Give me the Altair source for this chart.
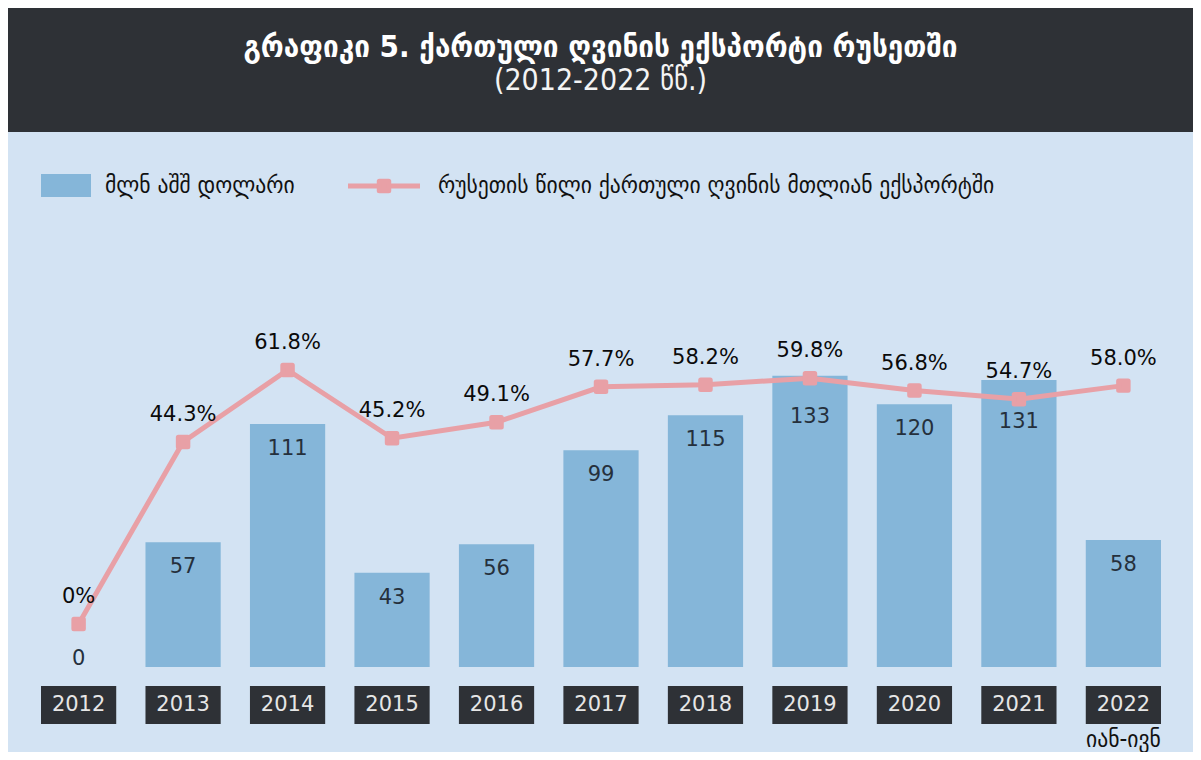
import altair as alt
import pandas as pd

years = ["2012", "2013", "2014", "2015", "2016", "2017", "2018", "2019", "2020", "2021", "2022"]
usd_mln = [0, 57, 111, 43, 56, 99, 115, 133, 120, 131, 58]
share_pct = [0, 44.3, 61.8, 45.2, 49.1, 57.7, 58.2, 59.8, 56.8, 54.7, 58.0]

title_text = "გრაფიკი 5. ქართული ღვინის ექსპორტი რუსეთში"
subtitle_text = "(2012-2022 წწ.)"
legend_bar = "მლნ აშშ დოლარი"
legend_line = "რუსეთის წილი ქართული ღვინის მთლიან ექსპორტში"
note_year = "2022"
note_text = "იან-ივნ"

BG = "#d3e3f3"
DARK = "#2e3136"
BAR = "#85b6d9"
LINE = "#e8a0a6"
GEO = "DejaVu Sans Condensed"
NUM = "DejaVu Sans"

W, H = 1185, 744

df = pd.DataFrame({"year": years, "usd": usd_mln, "share": share_pct})
one = pd.DataFrame({"k": [0]})

x_scale = alt.Scale(domain=years, range=[33, 1153], paddingInner=0.28, paddingOuter=0)
y_bar = alt.Scale(domain=[0, 200], range=[659, 221], nice=False, zero=True)
y_line = alt.Scale(domain=[0, 100], range=[616, 205], nice=False, zero=True)

X = alt.X("year:N", scale=x_scale, axis=None)

header = alt.Chart(one).mark_rect(color=DARK).encode(
    x=alt.value(-10), x2=alt.value(W + 10), y=alt.value(-10), y2=alt.value(124)
)
title = alt.Chart(one).mark_text(
    text=title_text, font=GEO, fontSize=31, fontWeight="bold", color="white", baseline="middle"
).encode(x=alt.value(W / 2), y=alt.value(40))
subtitle = alt.Chart(one).mark_text(
    text=subtitle_text, font=GEO, fontSize=30, color="#f4f4f4", baseline="middle"
).encode(x=alt.value(W / 2), y=alt.value(73))

leg_rect = alt.Chart(one).mark_rect(color=BAR).encode(
    x=alt.value(33), x2=alt.value(83), y=alt.value(166), y2=alt.value(189)
)
leg_t1 = alt.Chart(one).mark_text(
    text=legend_bar, font=GEO, fontSize=24, color="#111111", align="left", baseline="middle"
).encode(x=alt.value(97), y=alt.value(178))
leg_rule = alt.Chart(one).mark_rule(color=LINE, strokeWidth=5).encode(
    x=alt.value(340), x2=alt.value(412), y=alt.value(178)
)
leg_pt = alt.Chart(one).mark_point(
    shape="square", filled=True, fill=LINE, stroke=LINE, strokeWidth=5, strokeJoin="round",
    size=90, opacity=1
).encode(x=alt.value(376), y=alt.value(178))
leg_t2 = alt.Chart(one).mark_text(
    text=legend_line, font=GEO, fontSize=24, color="#111111", align="left", baseline="middle"
).encode(x=alt.value(430), y=alt.value(178))

bars = alt.Chart(df).mark_bar(color=BAR).encode(
    x=X, y=alt.Y("usd:Q", scale=y_bar, axis=None)
)
bar_labels = alt.Chart(df).transform_calculate(
    pos="datum.usd == 0 ? 3.6 : (datum.usd >= 130 ? datum.usd - 19 : datum.usd - 11.4)"
).mark_text(font=NUM, fontSize=21, color="#25303c", baseline="middle").encode(
    x=X, y=alt.Y("pos:Q", scale=y_bar, axis=None), text=alt.Text("usd:Q", format="d")
)

line = alt.Chart(df).mark_line(color=LINE, strokeWidth=5).encode(
    x=X, y=alt.Y("share:Q", scale=y_line, axis=None)
)
points = alt.Chart(df).mark_point(
    shape="square", filled=True, fill=LINE, stroke=LINE, strokeWidth=5, strokeJoin="round",
    size=90, opacity=1
).encode(x=X, y=alt.Y("share:Q", scale=y_line, axis=None))
pct_labels = alt.Chart(df).transform_calculate(
    lab="datum.share == 0 ? '0%' : format(datum.share, '.1f') + '%'"
).mark_text(font=NUM, fontSize=21, color="#0a0a0a", baseline="middle", dy=-27).encode(
    x=X, y=alt.Y("share:Q", scale=y_line, axis=None), text="lab:N"
)

year_boxes = alt.Chart(df).mark_rect(color=DARK).encode(
    x=X, y=alt.value(678), y2=alt.value(716)
)
year_text = alt.Chart(df).mark_text(
    font=NUM, fontSize=21, color="#e6e6e6", baseline="middle"
).encode(x=X, y=alt.value(697), text="year:N")
note = alt.Chart(pd.DataFrame({"year": [note_year], "t": [note_text]})).mark_text(
    font=GEO, fontSize=24, color="#111111", baseline="middle"
).encode(x=X, y=alt.value(732), text="t:N")

chart = alt.layer(
    header, title, subtitle, leg_rect, leg_t1, leg_rule, leg_pt, leg_t2,
    bars, bar_labels, line, points, pct_labels, year_boxes, year_text, note
).resolve_scale(y="independent").properties(
    width=W, height=H, autosize=alt.AutoSizeParams(type="none"), padding=0, background=BG
).configure_view(stroke=None)

chart.save("out.html", embed_options={"renderer": "svg", "actions": False})
